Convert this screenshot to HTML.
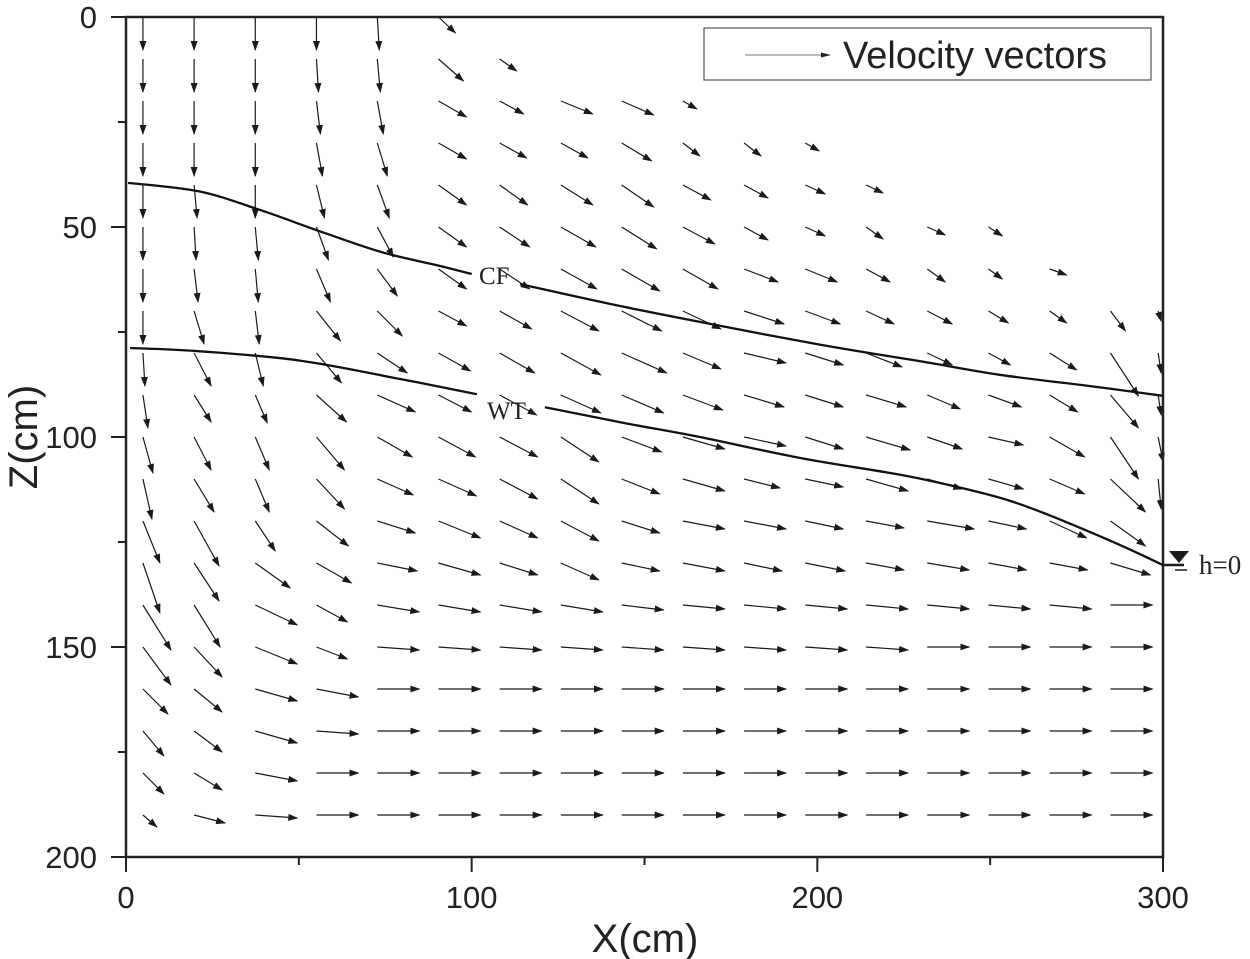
<!DOCTYPE html>
<html><head><meta charset="utf-8"><style>
html,body{margin:0;padding:0;background:#fff;}
svg{display:block;}
text{font-family:"Liberation Sans",sans-serif;fill:#222;}
</style></head><body>
<svg id="chart" width="1250" height="959" viewBox="0 0 1250 959" xmlns="http://www.w3.org/2000/svg">
<defs>
<marker id="ah" markerWidth="10" markerHeight="7" refX="9" refY="3.5" orient="auto" markerUnits="userSpaceOnUse"><path d="M0,0 L10,3.5 L0,7 Z" fill="#1a1a1a"/></marker>
</defs>
<g id="vectors"></g>
<g id="curves"></g>
<g id="axes"></g>
<g>
<rect x="704" y="28" width="447" height="52" fill="#fff" stroke="#555" stroke-width="1.2"/>
<line x1="745" y1="55" x2="830" y2="55" stroke="#777" stroke-width="1"/>
<path d="M821,52.5 L831,55 L821,57.5 Z" fill="#222"/>
<text x="843" y="68" font-size="38">Velocity vectors</text>
</g>
<g>
<line x1="1163" y1="565" x2="1184" y2="565" stroke="#1a1a1a" stroke-width="2.5"/>
<line x1="1175" y1="570" x2="1187" y2="570" stroke="#1a1a1a" stroke-width="1.5"/>
<path d="M1169,551 L1189,551 L1179,563 Z" fill="#1a1a1a"/>
<text x="1199" y="574" font-size="27" style="font-family:'Liberation Serif',serif">h=0</text>
</g>
</svg>
<script>
const xCols=[4.9,19.7,37.4,55.1,72.7,90.4,108.1,125.8,143.4,161.1,178.8,196.5,214.1,231.8,249.5,267.2,284.8,298.6];
const zRows=[0,10,20,30,40,50,60,70,80,90,100,110,120,130,140,150,160,170,180,190];
// horizontal velocity component per row (scaled)
const U=[
[0,0,0,0,2,17,0,0,0,0,0,0,0,0,0,0,0,0],
[0,0,0,2,3,25,17,0,0,0,0,0,0,0,0,0,0,0],
[0,0,0,4,6,28,24,32,32,14,0,0,0,0,0,0,0,0],
[0,0,0,6,10,28,27,27,30,17,17,14,0,0,0,0,0,0],
[0,3,0,8,12,28,28,32,32,28,24,20,17,0,0,0,0,0],
[0,2,3,12,16,28,30,35,35,32,24,20,17,18,14,0,0,0],
[0,4,3,14,20,28,30,36,38,35,34,32,24,18,14,17,0,0],
[0,10,4,24,25,28,32,38,40,38,40,35,28,25,20,17,15,3],
[2,17,8,25,30,32,35,40,45,38,42,38,36,25,22,27,28,3],
[5,17,12,30,38,33,37,40,42,40,40,38,40,33,33,28,28,3],
[10,17,14,28,35,37,38,38,40,42,42,38,44,35,35,35,28,5],
[9,20,14,28,36,38,38,38,38,42,36,38,42,35,35,35,35,3],
[17,25,20,32,38,42,38,38,38,42,42,38,38,47,38,37,35,0],
[17,25,35,35,40,42,38,38,38,42,38,40,38,42,38,38,40,0],
[28,26,42,31,42,42,42,42,42,42,42,42,42,42,42,42,42,0],
[28,28,42,31,42,42,42,42,42,42,42,42,42,42,42,42,42,0],
[25,28,42,42,42,42,42,42,42,42,42,42,42,42,42,42,42,0],
[21,28,42,42,42,42,42,42,42,42,42,42,42,42,42,42,42,0],
[21,28,42,42,42,42,42,42,42,42,42,42,42,42,42,42,42,0],
[14,31,42,42,42,42,42,42,42,42,42,42,42,42,42,42,42,0]];
// downward velocity component per row (scaled)
const W=[
[33,33,33,33,33,16,0,0,0,0,0,0,0,0,0,0,0,0],
[33,33,33,33,33,22,12,0,0,0,0,0,0,0,0,0,0,0],
[33,33,33,33,33,16,13,13,14,8,0,0,0,0,0,0,0,0],
[33,33,33,33,33,16,15,15,18,13,13,8,0,0,0,0,0,0],
[33,33,33,33,33,20,20,20,22,15,13,9,8,0,0,0,0,0],
[33,33,33,33,30,20,20,20,22,17,13,9,12,8,9,0,0,0],
[33,33,33,33,27,20,20,20,22,20,13,13,13,13,10,6,0,0],
[33,33,33,30,25,15,18,20,20,18,13,13,13,13,12,12,20,10],
[33,33,33,30,20,18,20,22,20,16,10,12,14,12,12,17,43,20],
[33,27,28,27,17,17,20,18,18,15,12,12,12,14,12,17,33,20],
[36,33,33,33,20,20,20,25,15,12,9,12,13,12,8,20,42,25],
[40,33,33,30,16,17,20,25,15,12,9,8,12,10,10,15,33,30],
[42,45,30,25,12,17,17,20,12,8,8,8,7,8,8,17,25,0],
[50,38,25,20,8,12,12,17,8,8,8,8,7,7,7,7,12,0],
[45,42,20,17,7,7,7,7,5,4,4,4,4,4,4,4,0,0],
[38,30,17,12,3,3,3,3,3,3,3,3,3,0,0,0,0,0],
[25,23,12,8,0,0,0,0,0,0,0,0,0,0,0,0,0,0],
[25,21,12,3,0,0,0,0,0,0,0,0,0,0,0,0,0,0],
[21,17,8,0,0,0,0,0,0,0,0,0,0,0,0,0,0,0],
[12,8,3,0,0,0,0,0,0,0,0,0,0,0,0,0,0,0]];
const cfX1=[0.6,21,39,56,74,91,100];
const cfZ1=[39.5,41.5,46,51,56,59.3,61.2];
const cfX2=[114,140,166,200.7,230,252.8,280,300];
const cfZ2=[63.6,68.3,72.6,78,82,85.2,88,90.2];
const wtX1=[1.2,21.4,50.3,79.3,101.5];
const wtZ1=[78.8,79.6,81.8,86.2,89.8];
const wtX2=[121.2,145,166,195,224,241,255,267,287.5,300];
const wtZ2=[92.9,96.8,100,105,109,112,115,118.6,125.7,130.5];
const xTicks=[0,100,200,300];
const xMinor=[50,150,250];
const zTicks=[0,50,100,150,200];
const zMinor=[25,75,125,175];

const NS="http://www.w3.org/2000/svg";
const X0=126,X1=1163,Y0=17,Y1=857;
const sx=v=>X0+(v/300)*(X1-X0);
const sy=v=>Y0+(v/200)*(Y1-Y0);
function mk(tag,attrs,parent){const e=document.createElementNS(NS,tag);for(const k in attrs)e.setAttribute(k,attrs[k]);parent.appendChild(e);return e;}
const vg=document.getElementById('vectors');
for(let r=0;r<zRows.length;r++){for(let c=0;c<xCols.length;c++){
  const u=U[r][c],w=W[r][c];if(u===0&&w===0)continue;
  const x=sx(xCols[c]),y=sy(zRows[r]);
  const l=mk('line',{x1:x,y1:y,x2:x+u,y2:y+w,stroke:'#1a1a1a','stroke-width':1.2,'marker-end':'url(#ah)'},vg);
  
  
}}
const cg=document.getElementById('curves');
function curve(xs,zs,name){
  const P=xs.map((v,i)=>[sx(v),sy(zs[i])]);
  let d='M'+P[0][0].toFixed(1)+','+P[0][1].toFixed(1);
  for(let i=0;i<P.length-1;i++){
    const p0=P[Math.max(0,i-1)],p1=P[i],p2=P[i+1],p3=P[Math.min(P.length-1,i+2)];
    const c1=[p1[0]+(p2[0]-p0[0])/6,p1[1]+(p2[1]-p0[1])/6];
    const c2=[p2[0]-(p3[0]-p1[0])/6,p2[1]-(p3[1]-p1[1])/6];
    d+=' C'+c1.map(v=>v.toFixed(1)).join(',')+' '+c2.map(v=>v.toFixed(1)).join(',')+' '+p2.map(v=>v.toFixed(1)).join(',');
  }
  const p=mk('path',{d:d,fill:'none',stroke:'#111','stroke-width':2.3,'stroke-linejoin':'round'},cg);
  
  }
curve(cfX1,cfZ1,'cf-curve-left');curve(cfX2,cfZ2,'cf-curve-right');
curve(wtX1,wtZ1,'wt-curve-left');curve(wtX2,wtZ2,'wt-curve-right');
const t1=mk('text',{x:479,y:284,'font-size':25,style:"font-family:'Liberation Serif',serif"},cg);t1.textContent='CF';


const t2=mk('text',{x:487,y:419,'font-size':25,style:"font-family:'Liberation Serif',serif"},cg);t2.textContent='WT';


const ag=document.getElementById('axes');
const fr=mk('rect',{x:X0,y:Y0,width:X1-X0,height:Y1-Y0,fill:'none',stroke:'#222','stroke-width':2.5},ag);


xTicks.forEach(v=>{const t=mk('line',{x1:sx(v),y1:Y1,x2:sx(v),y2:Y1+15,stroke:'#222','stroke-width':2},ag);
  
  
  const l=mk('text',{x:sx(v),y:908,'font-size':31,'text-anchor':'middle'},ag);l.textContent=v;
  
  });
xMinor.forEach(v=>{const t=mk('line',{x1:sx(v),y1:Y1,x2:sx(v),y2:Y1+8,stroke:'#222','stroke-width':2},ag);
  
  });
zTicks.forEach(v=>{const t=mk('line',{x1:X0-15,y1:sy(v),x2:X0,y2:sy(v),stroke:'#222','stroke-width':2},ag);
  
  
  const l=mk('text',{x:97,y:sy(v)+11,'font-size':31,'text-anchor':'end'},ag);l.textContent=v;
  
  });
zMinor.forEach(v=>{const t=mk('line',{x1:X0-8,y1:sy(v),x2:X0,y2:sy(v),stroke:'#222','stroke-width':2},ag);
  
  });
const xt=mk('text',{x:645,y:952,'font-size':40,'text-anchor':'middle'},ag);xt.textContent='X(cm)';


const zt=mk('text',{x:0,y:0,'font-size':40,'text-anchor':'middle',transform:'translate(37,437) rotate(-90)'},ag);zt.textContent='Z(cm)';


</script>
</body></html>
